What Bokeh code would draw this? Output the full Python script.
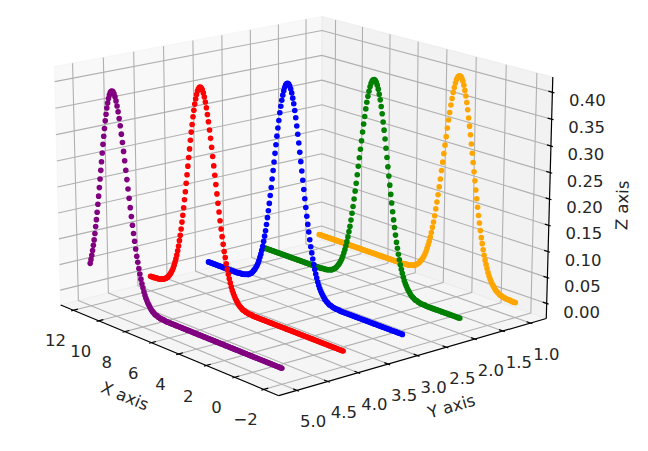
import numpy as np
from bokeh.plotting import figure
from bokeh.models import Range1d
from bokeh.core.properties import value
from bokeh.embed import file_html
from bokeh.resources import INLINE

# ---------------- data ----------------
x_values = [
    -2.0, -1.929, -1.857, -1.786, -1.714, -1.643, -1.571, -1.5, -1.429, -1.357, -1.286, -1.214, -1.143, -1.071,
    -1.0, -0.929, -0.857, -0.786, -0.714, -0.643, -0.571, -0.5, -0.429, -0.357, -0.286, -0.214, -0.143, -0.071,
    0.0, 0.071, 0.143, 0.214, 0.286, 0.357, 0.429, 0.5, 0.571, 0.643, 0.714, 0.786, 0.857, 0.929,
    1.0, 1.071, 1.143, 1.214, 1.286, 1.357, 1.429, 1.5, 1.571, 1.643, 1.714, 1.786, 1.857, 1.929,
    2.0, 2.071, 2.143, 2.214, 2.286, 2.357, 2.429, 2.5, 2.571, 2.643, 2.714, 2.786, 2.857, 2.929,
    3.0, 3.071, 3.143, 3.214, 3.286, 3.357, 3.429, 3.5, 3.571, 3.643, 3.714, 3.786, 3.857, 3.929,
    4.0, 4.071, 4.143, 4.214, 4.286, 4.357, 4.429, 4.5, 4.571, 4.643, 4.714, 4.786, 4.857, 4.929,
    5.0, 5.071, 5.143, 5.214, 5.286, 5.357, 5.429, 5.5, 5.571, 5.643, 5.714, 5.786, 5.857, 5.929,
    6.0, 6.071, 6.143, 6.214, 6.286, 6.357, 6.429, 6.5, 6.571, 6.643, 6.714, 6.786, 6.857, 6.929,
    7.0, 7.071, 7.143, 7.214, 7.286, 7.357, 7.429, 7.5, 7.571, 7.643, 7.714, 7.786, 7.857, 7.929,
    8.0, 8.071, 8.143, 8.214, 8.286, 8.357, 8.429, 8.5, 8.571, 8.643, 8.714, 8.786, 8.857, 8.929,
    9.0, 9.071, 9.143, 9.214, 9.286, 9.357, 9.429, 9.5, 9.571, 9.643, 9.714, 9.786, 9.857, 9.929,
    10.0, 10.071, 10.143, 10.214, 10.286, 10.357, 10.429, 10.5, 10.571, 10.643, 10.714, 10.786, 10.857, 10.929,
    11.0, 11.071, 11.143, 11.214, 11.286, 11.357, 11.429, 11.5, 11.571, 11.643, 11.714, 11.786, 11.857, 11.929,
    12.0,
]

y_levels = [1, 2, 3, 4, 5]
series_colors = ["orange", "green", "blue", "red", "purple"]

z_orange = [
    0, 0, 0, 0, 0,
    0.001, 0.001, 0.001, 0.001, 0.001, 0.002, 0.002, 0.003, 0.004, 0.004,
    0.005, 0.007, 0.008, 0.010, 0.012, 0.015, 0.018, 0.021, 0.025, 0.029,
    0.034, 0.040, 0.047, 0.054, 0.062, 0.071, 0.081, 0.092, 0.103, 0.116,
    0.130, 0.144, 0.159, 0.175, 0.191, 0.208, 0.225, 0.242, 0.259, 0.276,
    0.293, 0.309, 0.324, 0.339, 0.352, 0.364, 0.374, 0.383, 0.390, 0.395, 0.398,
    0.399,
    0.398, 0.395, 0.390, 0.383, 0.374, 0.364, 0.352, 0.339, 0.324, 0.309, 0.293,
    0.276, 0.259, 0.242, 0.225, 0.208, 0.191, 0.175, 0.159, 0.144, 0.130,
    0.116, 0.103, 0.092, 0.081, 0.071, 0.062, 0.054, 0.047, 0.040, 0.034,
    0.029, 0.025, 0.021, 0.018, 0.015, 0.012, 0.010, 0.008, 0.007, 0.005,
    0.004, 0.004, 0.003, 0.002, 0.002, 0.001, 0.001, 0.001, 0.001, 0.001,
    0, 0, 0, 0, 0, 0, 0, 0, 0, 0,
    0, 0, 0, 0, 0, 0, 0, 0, 0, 0,
    0, 0, 0, 0, 0, 0, 0, 0, 0, 0,
    0, 0, 0, 0, 0, 0, 0, 0, 0, 0,
    0, 0, 0, 0, 0, 0, 0, 0, 0, 0,
    0, 0, 0, 0, 0, 0, 0, 0, 0, 0,
    0, 0, 0, 0, 0, 0, 0, 0, 0, 0,
    0, 0, 0, 0, 0, 0, 0, 0, 0, 0,
    0, 0, 0, 0, 0, 0, 0, 0, 0,
]

z_green = [
    0, 0, 0, 0, 0, 0, 0, 0, 0, 0,
    0, 0, 0, 0, 0, 0, 0, 0, 0, 0,
    0, 0, 0, 0, 0, 0, 0, 0, 0, 0,
    0, 0, 0,
    0.001, 0.001, 0.001, 0.001, 0.001, 0.002, 0.002, 0.003, 0.004, 0.004,
    0.005, 0.007, 0.008, 0.010, 0.012, 0.015, 0.018, 0.021, 0.025, 0.029,
    0.034, 0.040, 0.047, 0.054, 0.062, 0.071, 0.081, 0.092, 0.103, 0.116,
    0.130, 0.144, 0.159, 0.175, 0.191, 0.208, 0.225, 0.242, 0.259, 0.276,
    0.293, 0.309, 0.324, 0.339, 0.352, 0.364, 0.374, 0.383, 0.390, 0.395, 0.398,
    0.399,
    0.398, 0.395, 0.390, 0.383, 0.374, 0.364, 0.352, 0.339, 0.324, 0.309, 0.293,
    0.276, 0.259, 0.242, 0.225, 0.208, 0.191, 0.175, 0.159, 0.144, 0.130,
    0.116, 0.103, 0.092, 0.081, 0.071, 0.062, 0.054, 0.047, 0.040, 0.034,
    0.029, 0.025, 0.021, 0.018, 0.015, 0.012, 0.010, 0.008, 0.007, 0.005,
    0.004, 0.004, 0.003, 0.002, 0.002, 0.001, 0.001, 0.001, 0.001, 0.001,
    0, 0, 0, 0, 0, 0, 0, 0, 0, 0,
    0, 0, 0, 0, 0, 0, 0, 0, 0, 0,
    0, 0, 0, 0, 0, 0, 0, 0, 0, 0,
    0, 0, 0, 0, 0, 0, 0, 0, 0, 0,
    0, 0, 0, 0, 0, 0, 0, 0, 0, 0,
    0, 0, 0, 0, 0, 0, 0, 0, 0, 0,
    0,
]

z_blue = [
    0, 0, 0, 0, 0, 0, 0, 0, 0, 0,
    0, 0, 0, 0, 0, 0, 0, 0, 0, 0,
    0, 0, 0, 0, 0, 0, 0, 0, 0, 0,
    0, 0, 0, 0, 0, 0, 0, 0, 0, 0,
    0, 0, 0, 0, 0, 0, 0, 0, 0, 0,
    0, 0, 0, 0, 0, 0, 0, 0, 0, 0,
    0,
    0.001, 0.001, 0.001, 0.001, 0.001, 0.002, 0.002, 0.003, 0.004, 0.004,
    0.005, 0.007, 0.008, 0.010, 0.012, 0.015, 0.018, 0.021, 0.025, 0.029,
    0.034, 0.040, 0.047, 0.054, 0.062, 0.071, 0.081, 0.092, 0.103, 0.116,
    0.130, 0.144, 0.159, 0.175, 0.191, 0.208, 0.225, 0.242, 0.259, 0.276,
    0.293, 0.309, 0.324, 0.339, 0.352, 0.364, 0.374, 0.383, 0.390, 0.395, 0.398,
    0.399,
    0.398, 0.395, 0.390, 0.383, 0.374, 0.364, 0.352, 0.339, 0.324, 0.309, 0.293,
    0.276, 0.259, 0.242, 0.225, 0.208, 0.191, 0.175, 0.159, 0.144, 0.130,
    0.116, 0.103, 0.092, 0.081, 0.071, 0.062, 0.054, 0.047, 0.040, 0.034,
    0.029, 0.025, 0.021, 0.018, 0.015, 0.012, 0.010, 0.008, 0.007, 0.005,
    0.004, 0.004, 0.003, 0.002, 0.002, 0.001, 0.001, 0.001, 0.001, 0.001,
    0, 0, 0, 0, 0, 0, 0, 0, 0, 0,
    0, 0, 0, 0, 0, 0, 0, 0, 0, 0,
    0, 0, 0, 0, 0, 0, 0, 0, 0, 0,
    0, 0, 0,
]

z_red = [
    0, 0, 0, 0, 0, 0, 0, 0, 0, 0,
    0, 0, 0, 0, 0, 0, 0, 0, 0, 0,
    0, 0, 0, 0, 0, 0, 0, 0, 0, 0,
    0, 0, 0, 0, 0, 0, 0, 0, 0, 0,
    0, 0, 0, 0, 0, 0, 0, 0, 0, 0,
    0, 0, 0, 0, 0, 0, 0, 0, 0, 0,
    0, 0, 0, 0, 0, 0, 0, 0, 0, 0,
    0, 0, 0, 0, 0, 0, 0, 0, 0, 0,
    0, 0, 0, 0, 0, 0, 0, 0, 0,
    0.001, 0.001, 0.001, 0.001, 0.001, 0.002, 0.002, 0.003, 0.004, 0.004,
    0.005, 0.007, 0.008, 0.010, 0.012, 0.015, 0.018, 0.021, 0.025, 0.029,
    0.034, 0.040, 0.047, 0.054, 0.062, 0.071, 0.081, 0.092, 0.103, 0.116,
    0.130, 0.144, 0.159, 0.175, 0.191, 0.208, 0.225, 0.242, 0.259, 0.276,
    0.293, 0.309, 0.324, 0.339, 0.352, 0.364, 0.374, 0.383, 0.390, 0.395, 0.398,
    0.399,
    0.398, 0.395, 0.390, 0.383, 0.374, 0.364, 0.352, 0.339, 0.324, 0.309, 0.293,
    0.276, 0.259, 0.242, 0.225, 0.208, 0.191, 0.175, 0.159, 0.144, 0.130,
    0.116, 0.103, 0.092, 0.081, 0.071, 0.062, 0.054, 0.047, 0.040, 0.034,
    0.029, 0.025, 0.021, 0.018, 0.015, 0.012, 0.010, 0.008, 0.007, 0.005,
    0.004, 0.004, 0.003, 0.002, 0.002, 0.001, 0.001, 0.001, 0.001, 0.001,
    0, 0, 0, 0, 0,
]

z_purple = [
    0, 0, 0, 0, 0, 0, 0, 0, 0, 0,
    0, 0, 0, 0, 0, 0, 0, 0, 0, 0,
    0, 0, 0, 0, 0, 0, 0, 0, 0, 0,
    0, 0, 0, 0, 0, 0, 0, 0, 0, 0,
    0, 0, 0, 0, 0, 0, 0, 0, 0, 0,
    0, 0, 0, 0, 0, 0, 0, 0, 0, 0,
    0, 0, 0, 0, 0, 0, 0, 0, 0, 0,
    0, 0, 0, 0, 0, 0, 0, 0, 0, 0,
    0, 0, 0, 0, 0, 0, 0, 0, 0, 0,
    0, 0, 0, 0, 0, 0, 0, 0, 0, 0,
    0, 0, 0, 0, 0, 0, 0, 0, 0, 0,
    0, 0, 0, 0, 0, 0, 0,
    0.001, 0.001, 0.001, 0.001, 0.001, 0.002, 0.002, 0.003, 0.004, 0.004,
    0.005, 0.007, 0.008, 0.010, 0.012, 0.015, 0.018, 0.021, 0.025, 0.029,
    0.034, 0.040, 0.047, 0.054, 0.062, 0.071, 0.081, 0.092, 0.103, 0.116,
    0.130, 0.144, 0.159, 0.175, 0.191, 0.208, 0.225, 0.242, 0.259, 0.276,
    0.293, 0.309, 0.324, 0.339, 0.352, 0.364, 0.374, 0.383, 0.390, 0.395, 0.398,
    0.399,
    0.398, 0.395, 0.390, 0.383, 0.374, 0.364, 0.352, 0.339, 0.324, 0.309, 0.293,
    0.276, 0.259, 0.242, 0.225, 0.208, 0.191, 0.175, 0.159, 0.144, 0.130,
    0.116, 0.103, 0.092, 0.081, 0.071, 0.062, 0.054,
]

x_ticks = [-2, 0, 2, 4, 6, 8, 10, 12]
x_tick_labels = ["\u22122", "0", "2", "4", "6", "8", "10", "12"]
y_ticks = [1.0, 1.5, 2.0, 2.5, 3.0, 3.5, 4.0, 4.5, 5.0]
y_tick_labels = ["1.0", "1.5", "2.0", "2.5", "3.0", "3.5", "4.0", "4.5", "5.0"]
z_ticks = [0.0, 0.05, 0.10, 0.15, 0.20, 0.25, 0.30, 0.35, 0.40]
z_tick_labels = ["0.00", "0.05", "0.10", "0.15", "0.20", "0.25", "0.30", "0.35", "0.40"]
axis_titles = ["X axis", "Y axis", "Z axis"]

# ---------------- view / layout ----------------
PW, PH = 632, 435          # figure size (fits the window with its margin)
ELEV, AZIM, DIST = 17.0, 140.0, 10.0
SX, SY, CX, CY = 2933.0, 2809.0, 301.3, 192.8
FONT = value("DejaVu Sans")
FS = "16.5px"
TXT = "#262626"

z_series = [z_orange, z_green, z_blue, z_red, z_purple]
all_z = [v for s in z_series for v in s]


def margins(lo, hi):
    r = hi - lo
    return lo - 0.05 * r, hi + 0.05 * r


XL = margins(min(x_values), max(x_values))
YL = margins(min(y_levels), max(y_levels))
ZL = margins(min(all_z), max(all_z))


def pad(l):
    d = (l[1] - l[0]) / 48.0
    return l[0] - d, l[1] + d


XP, YP, ZP = pad(XL), pad(YL), pad(ZL)
DX, DY, DZ = [(l[1] - l[0]) / 12.0 for l in (XL, YL, ZL)]

aspect = np.array([4.0, 4.0, 3.0])
aspect *= 1.8294640721620434 / np.linalg.norm(aspect)
er, ar = np.radians(ELEV), np.radians(AZIM)
wv = np.array([np.cos(er) * np.cos(ar), np.cos(er) * np.sin(ar), np.sin(er)])
uv = np.cross([0.0, 0.0, 1.0], wv)
uv /= np.linalg.norm(uv)
vv = np.cross(wv, uv)


def proj(X, Y, Z):
    X, Y, Z = np.broadcast_arrays(np.asarray(X, float), np.asarray(Y, float), np.asarray(Z, float))
    nx = (X - XL[0]) / (XL[1] - XL[0]) * aspect[0] - aspect[0] / 2
    ny = (Y - YL[0]) / (YL[1] - YL[0]) * aspect[1] - aspect[1] / 2
    nz = (Z - ZL[0]) / (ZL[1] - ZL[0]) * aspect[2] - aspect[2] / 2
    du = uv[0] * nx + uv[1] * ny + uv[2] * nz
    dv = vv[0] * nx + vv[1] * ny + vv[2] * nz
    dw = wv[0] * nx + wv[1] * ny + wv[2] * nz
    depth = DIST - dw
    px = CX + SX * du / depth
    py = CY - SY * dv / depth
    return px, PH - py


p = figure(width=PW, height=PH, x_range=Range1d(0, PW), y_range=Range1d(0, PH),
           output_backend="svg", toolbar_location=None, min_border=0,
           x_axis_location=None, y_axis_location=None)
p.grid.visible = False
p.outline_line_color = None
p.background_fill_color = "white"
p.border_fill_color = "white"

x0, x1 = XP
y0, y1 = YP
z0, z1 = ZP

# panes
panes = [
    ([x1, x1, x1, x1], [y0, y1, y1, y0], [z0, z0, z1, z1], "#f2f2f2"),
    ([x0, x1, x1, x0], [y0, y0, y0, y0], [z0, z0, z1, z1], "#e6e6e6"),
    ([x0, x1, x1, x0], [y0, y0, y1, y1], [z0, z0, z0, z0], "#ececec"),
]
pxs, pys, pcs = [], [], []
for X, Y, Z, c in panes:
    a, b = proj(X, Y, Z)
    pxs.append(list(a)); pys.append(list(b)); pcs.append(c)
p.patches(pxs, pys, fill_color=pcs, fill_alpha=0.5, line_color=pcs, line_alpha=0.5)

# grid lines
gx, gy = [], []
for t in x_ticks:
    a, b = proj([t, t, t], [y1, y0, y0], [z0, z0, z1]); gx.append(list(a)); gy.append(list(b))
for t in y_ticks:
    a, b = proj([x1, x1, x0], [t, t, t], [z1, z0, z0]); gx.append(list(a)); gy.append(list(b))
for t in z_ticks:
    a, b = proj([x0, x1, x1], [y0, y0, y1], [t, t, t]); gx.append(list(a)); gy.append(list(b))
p.multi_line(gx, gy, line_color="#b0b0b0", line_width=1.1)

# axis lines
ax_x, ax_y = [], []
for X, Y, Z in (([x0, x1], [y1, y1], [z0, z0]), ([x0, x0], [y0, y1], [z0, z0]), ([x0, x0], [y0, y0], [z0, z1])):
    a, b = proj(X, Y, Z); ax_x.append(list(a)); ax_y.append(list(b))
p.multi_line(ax_x, ax_y, line_color="black", line_width=1.2)

# tick marks
tx, ty = [], []
for t in x_ticks:
    a, b = proj([t, t], [y1 - 0.2 * DY, y1 + 0.1 * DY], [z0, z0]); tx.append(list(a)); ty.append(list(b))
for t in y_ticks:
    a, b = proj([x0 + 0.2 * DX, x0 - 0.1 * DX], [t, t], [z0, z0]); tx.append(list(a)); ty.append(list(b))
for t in z_ticks:
    a, b = proj([x0 + 0.2 * DX, x0 - 0.1 * DX], [y0, y0], [t, t]); tx.append(list(a)); ty.append(list(b))
p.multi_line(tx, ty, line_color="black", line_width=1.2)

# tick labels
lx, ly = proj(x_ticks, y1, z0)
p.text(list(lx - 18), list(ly - 30), text=x_tick_labels, text_font=FONT, text_font_size=FS,
       text_color=TXT, text_align="center", text_baseline="middle")
lx, ly = proj(x0, y_ticks, z0)
p.text(list(lx + 16), list(ly - 31), text=y_tick_labels, text_font=FONT, text_font_size=FS,
       text_color=TXT, text_align="center", text_baseline="middle")
lx, ly = proj(x0, y0, z_ticks)
p.text(list(lx + 35), list(ly - 8), text=z_tick_labels, text_font=FONT, text_font_size=FS,
       text_color=TXT, text_align="center", text_baseline="middle")


# axis titles
def edge_angle(P, Q):
    a, b = proj(*[[P[i], Q[i]] for i in range(3)])
    return float(np.arctan2(b[1] - b[0], a[1] - a[0]))


ang_x = edge_angle((x1, y1, z0), (x0, y1, z0))
ang_y = edge_angle((x0, y1, z0), (x0, y0, z0))
ang_z = edge_angle((x0, y0, z0), (x0, y0, z1))
mx, my = proj((x0 + x1) / 2, y1, z0)
nx_, ny_ = proj(x0, (y0 + y1) / 2, z0)
qx, qy = proj(x0, y0, (z0 + z1) / 2)
p.text([float(mx) - 40, float(nx_) + 34, float(qx) + 73], [float(my) - 48, float(ny_) - 51, float(qy) - 6],
       text=axis_titles, angle=[ang_x, ang_y, ang_z], angle_units="rad",
       text_font=FONT, text_font_size=FS, text_color=TXT, text_align="center", text_baseline="middle")

# data points, back to front
for level, zs, c in zip(y_levels, z_series, series_colors):
    n = min(len(x_values), len(zs))
    a, b = proj(x_values[:n], level, zs[:n])
    p.scatter(list(a), list(b), size=5.6, fill_color=c, line_color=None)

open("out.html", "w").write(file_html(p, INLINE))
